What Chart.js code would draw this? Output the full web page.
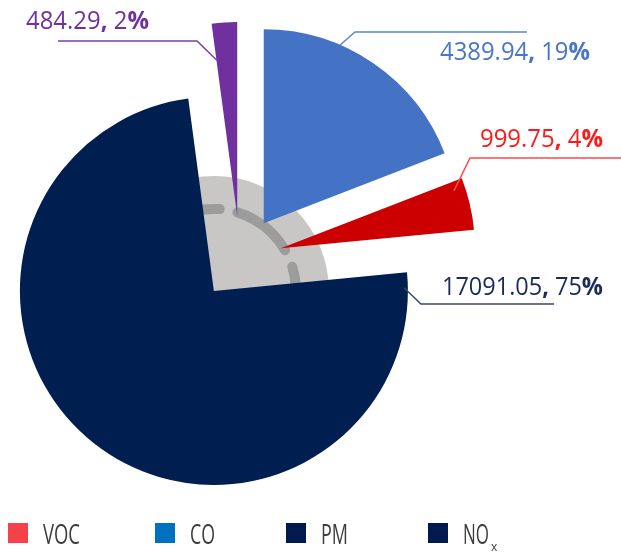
<!DOCTYPE html>
<html><head><meta charset="utf-8">
<script src="https://cdn.jsdelivr.net/npm/chart.js@4/dist/chart.umd.min.js"></script>
<style>html,body{margin:0;padding:0;background:#fff;}canvas{display:block;}</style>
</head><body>
<canvas id="c" width="621" height="553"></canvas>
<script>
// ---- data ----
const categories = ['CO', 'VOC', 'NOx', 'PM'];
const sliceValues = [4389.94, 999.75, 17091.05, 484.29];
const slicePercents = [19, 4, 75, 2];
const sliceColors = ['#4472C4', '#CC0000', '#001E50', '#7030A0'];
const legendLabels = ['VOC', 'CO', 'PM', 'NO'];
const legendSubs = ['', '', '', 'x'];
const legendColors = ['#F4414A', '#0070C0', '#001A4F', '#001A4F'];

// ---- styling / layout ----
const EXPLODE = 42;           // pixel translation of every slice
const PIE_R = 194;
const FONT = '"Open Sans", "Noto Sans", sans-serif';
const labelLayout = [
  {t:0.337, rf:1.00, elbow:[355,32],  end:527, tx:440, tw:150, ty:60,  color:'#4a76c6', line:'#5b86d0'},
  {t:0.18,  rf:0.94, elbow:[470,158], end:621, tx:480, tw:123, ty:147, color:'#ff1a1a', line:'#ff4a4a'},
  {t:0.017, rf:0.98, elbow:[421,304], end:554, tx:442, tw:161, ty:295, color:'#1b2a5c', line:'#3b4766'},
  {t:0.02,  rf:0.81, elbow:[197,41],  end:58,  tx:26,  tw:123, ty:29,  color:'#7030a0', line:'#7a3fa8'}
];
const legendLayout = {boxX:[8,155,286,428], boxY:523, box:20, textX:[43,190,321,463], textW:[37,25,27,26], base:544, size:27};

function drawRich(ctx, segs, x, baseline, size, targetW, color) {
  let w = 0;
  segs.forEach(s => { ctx.font = (s.bold ? 'bold ' : '') + size + 'px ' + FONT; s.w = ctx.measureText(s.t).width; w += s.w; });
  const k = targetW / w;
  ctx.save();
  ctx.translate(x, baseline); ctx.scale(k, 1);
  ctx.fillStyle = color; ctx.textBaseline = 'alphabetic'; ctx.textAlign = 'left';
  let cx = 0;
  segs.forEach(s => { ctx.font = (s.bold ? 'bold ' : '') + size + 'px ' + FONT; ctx.fillText(s.t, cx, 0); cx += s.w; });
  ctx.restore();
}

function sliceCenter(arc) {
  const mid = (arc.startAngle + arc.endAngle) / 2;
  return [arc.x + Math.cos(mid) * EXPLODE, arc.y + Math.sin(mid) * EXPLODE, mid];
}

const decor = {
  id: 'decor',
  beforeDatasetsDraw(chart) {
    const meta = chart.getDatasetMeta(0);
    const baseR = meta.controller.outerRadius;
    // keep every exploded slice at the same radius and its true angular width
    meta.data.forEach(arc => {
      const fix = 1 - Math.sin(Math.min(Math.PI, arc.circumference));
      const radOff = EXPLODE * fix;
      arc.outerRadius = baseR - radOff;
      const mid = (arc.startAngle + arc.endAngle) / 2;
      const half = arc.circumference / 2 + radOff / (Math.PI * baseR) / 2;
      arc.startAngle = mid - half;
      arc.endAngle = mid + half;
    });
    // grey disc with dashed ring around the apex of the largest slice
    const big = meta.data[2];
    const [cx, cy] = sliceCenter(big);
    const ctx = chart.ctx;
    ctx.save();
    ctx.fillStyle = '#c8c7c6';
    ctx.beginPath(); ctx.arc(cx, cy, 115, 0, Math.PI * 2); ctx.fill();
    ctx.strokeStyle = '#9c9c9c'; ctx.lineWidth = 10; ctx.lineCap = 'round';
    ctx.setLineDash([44, 18]);
    const a0 = -60.5 * Math.PI / 180;
    ctx.beginPath(); ctx.arc(cx, cy, 82, a0, a0 + Math.PI * 2); ctx.stroke();
    ctx.restore();
  },
  afterDraw(chart) {
    const ctx = chart.ctx;
    const meta = chart.getDatasetMeta(0);
    meta.data.forEach((arc, i) => {
      const L = labelLayout[i];
      const [cx, cy] = sliceCenter(arc);
      const mid = (arc.startAngle + arc.endAngle) / 2;
      const s0 = mid - arc.circumference / 2;
      const ang = s0 + arc.circumference * L.t;
      const r = PIE_R * L.rf;
      const sx = cx + Math.cos(ang) * r, sy = cy + Math.sin(ang) * r;
      ctx.save();
      ctx.strokeStyle = L.line; ctx.lineWidth = 1.5;
      ctx.beginPath(); ctx.moveTo(sx, sy); ctx.lineTo(L.elbow[0], L.elbow[1]); ctx.lineTo(L.end, L.elbow[1]); ctx.stroke();
      ctx.restore();
      drawRich(ctx, [
        {t: sliceValues[i].toFixed(2)}, {t: ', ', bold: true},
        {t: String(slicePercents[i])}, {t: '%', bold: true}
      ], L.tx, L.ty, 25, L.tw, L.color);
    });
    // legend
    const G = legendLayout;
    legendLabels.forEach((lab, i) => {
      ctx.fillStyle = legendColors[i];
      ctx.fillRect(G.boxX[i], G.boxY, G.box, G.box);
      drawRich(ctx, [{t: lab}], G.textX[i], G.base, G.size, G.textW[i], '#3c3c3c');
      if (legendSubs[i]) {
        ctx.save();
        ctx.font = '12px ' + FONT; ctx.fillStyle = '#3c3c3c';
        ctx.fillText(legendSubs[i], G.textX[i] + G.textW[i] + 2, 551);
        ctx.restore();
      }
    });
  }
};

new Chart(document.getElementById('c'), {
  type: 'pie',
  data: {
    labels: categories,
    datasets: [{
      data: sliceValues,
      backgroundColor: sliceColors,
      borderWidth: 0,
      offset: EXPLODE * 4
    }]
  },
  options: {
    responsive: false,
    animation: false,
    radius: PIE_R,
    layout: {padding: {left: 0, right: 141, top: 0, bottom: 37}},
    plugins: {legend: {display: false}, tooltip: {enabled: false}}
  },
  plugins: [decor]
});
</script>
</body></html>
